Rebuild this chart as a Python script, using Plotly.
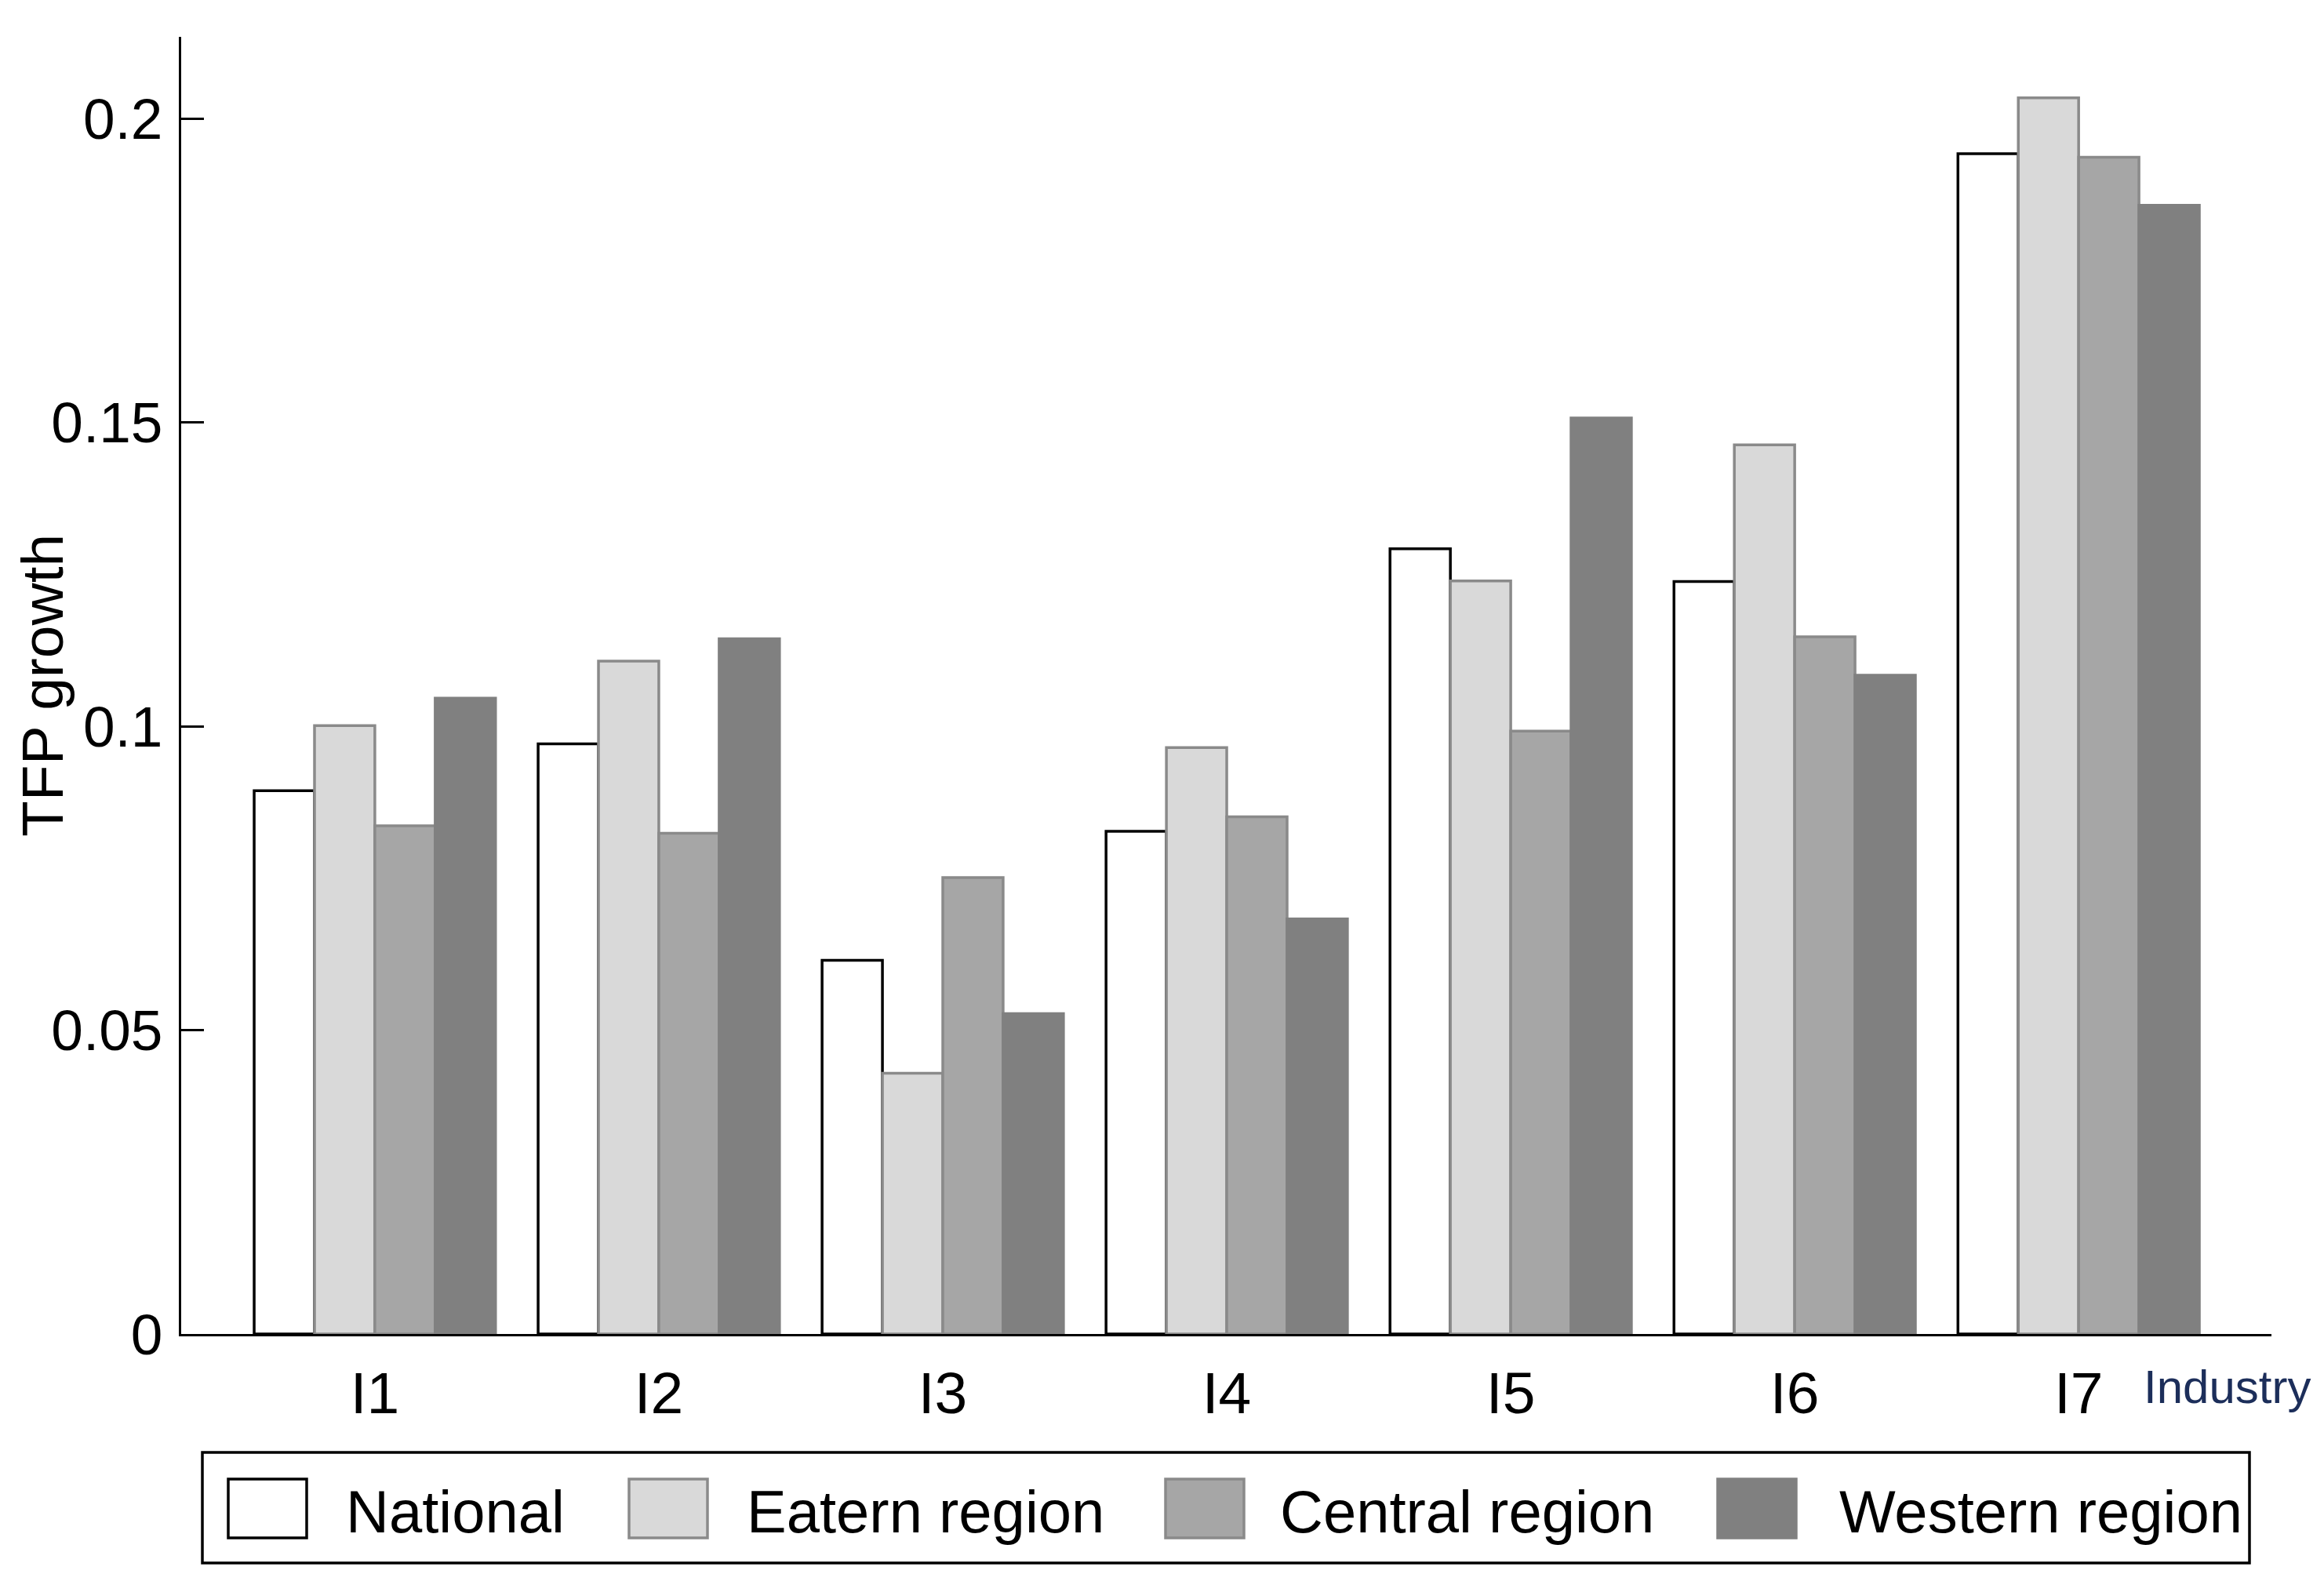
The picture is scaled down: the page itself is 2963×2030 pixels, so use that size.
import plotly.graph_objects as go

# ---- data ----
industries = ["I1", "I2", "I3", "I4", "I5", "I6", "I7"]
series_names = ["National", "Eatern region", "Central region", "Western region"]
national = [0.0894, 0.0971, 0.0615, 0.0827, 0.1292, 0.1238, 0.1942]
eastern = [0.1001, 0.1107, 0.0429, 0.0965, 0.1239, 0.1463, 0.2034]
central = [0.0836, 0.0824, 0.0751, 0.0851, 0.0992, 0.1147, 0.1936]
western = [0.1046, 0.1144, 0.0527, 0.0683, 0.1507, 0.1084, 0.1857]
y_ticks = [0, 0.05, 0.1, 0.15, 0.2]
y_tick_labels = ["0", "0.05", "0.1", "0.15", "0.2"]

values = [national, eastern, central, western]
fills = ["#ffffff", "#d9d9d9", "#a6a6a6", "#808080"]
outlines = ["#000000", "#8a8a8a", "#8a8a8a", "#808080"]

FONT = "Liberation Sans, Arial, sans-serif"
OFF = 8  # page body margin
W, H = 2963 - 2 * OFF, 2030 - 2 * OFF
L, R, T, B = 231 - OFF, 2896 - OFF, 47 - OFF, 1701 - OFF   # plot area in figure pixels

def px(x):
    return (x - OFF - L) / (R - L)

def py(y):
    return (B - (y - OFF)) / (B - T)

fig = go.Figure()
for name, vals, fc, lc in zip(series_names, values, fills, outlines):
    fig.add_trace(go.Bar(
        x=industries, y=vals, name=name,
        marker=dict(color=fc, line=dict(color=lc, width=3.5)),
        showlegend=False,
    ))

fig.update_layout(
    width=W, height=H,
    margin=dict(l=L, r=W - R, t=T, b=H - B),
    plot_bgcolor="white", paper_bgcolor="white",
    barmode="group", bargap=0.15, bargroupgap=0,
    font=dict(family=FONT, color="black"),
)
fig.update_xaxes(
    type="category", categoryarray=industries, range=[-0.682, 6.679],
    showline=True, linecolor="black", linewidth=3,
    ticks="", showgrid=False, zeroline=False,
    tickfont=dict(size=75, family=FONT, color="black"),
    ticklabelstandoff=8,
)
fig.update_yaxes(
    range=[0, (B - T) / 7750], tickvals=y_ticks, ticktext=y_tick_labels,
    ticks="inside", ticklen=29, tickwidth=3, tickcolor="black",
    showline=True, linecolor="black", linewidth=3,
    showgrid=False, zeroline=False,
    tickfont=dict(size=73, family=FONT, color="black"),
    ticklabelstandoff=6,
)

annotations = [
    dict(text="TFP growth", x=px(54), y=py(874), xref="paper", yref="paper",
         textangle=-90, showarrow=False, xanchor="center", yanchor="middle",
         font=dict(size=75, family=FONT, color="black")),
    dict(text="Industry", x=px(2731), y=py(1768), xref="paper", yref="paper",
         showarrow=False, xanchor="left", yanchor="middle",
         font=dict(size=60, family=FONT, color="#1c2e5a")),
]

# custom legend (box + swatches + labels)
shapes = [dict(type="rect", xref="paper", yref="paper",
               x0=px(258), x1=px(2868), y0=py(1852), y1=py(1993),
               line=dict(color="black", width=3.5), fillcolor="white", layer="above")]
sw_x = [291, 802, 1486, 2190]
txt_x = [439, 950, 1630, 2343]
for name, fc, lc, sx, tx in zip(series_names, fills, outlines, sw_x, txt_x):
    shapes.append(dict(type="rect", xref="paper", yref="paper",
                       x0=px(sx), x1=px(sx + 100), y0=py(1886), y1=py(1961),
                       line=dict(color=lc, width=3.5), fillcolor=fc, layer="above"))
    annotations.append(dict(text=name, x=px(tx), y=py(1927), xref="paper", yref="paper",
                            showarrow=False, xanchor="left", yanchor="middle",
                            font=dict(size=76, family=FONT, color="black")))

fig.update_layout(shapes=shapes, annotations=annotations)
fig.write_html("out.html")
